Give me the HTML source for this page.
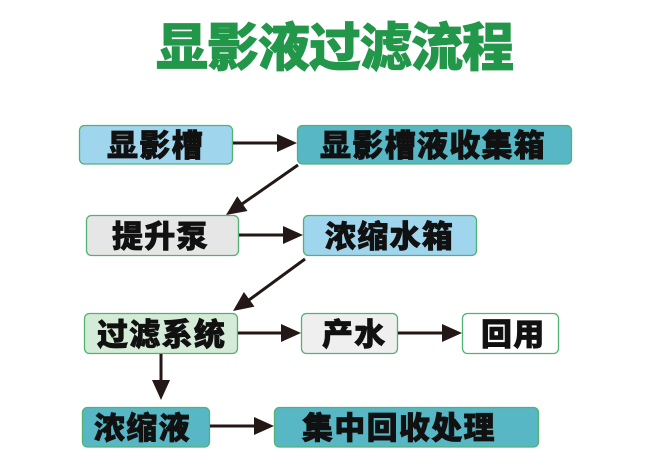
<!DOCTYPE html>
<html><head><meta charset="utf-8"><style>
html,body{margin:0;padding:0;background:#fff;}
svg{display:block;}
text{font-family:"Liberation Sans","Noto Sans CJK SC",sans-serif;font-weight:900;}
</style></head><body>
<svg width="650" height="468" viewBox="0 0 650 468" xmlns="http://www.w3.org/2000/svg">
<rect width="650" height="468" fill="#fff"/>
<text x="156" y="66" font-size="52" fill="#22974a" stroke="#22974a" stroke-width="0.8" letter-spacing="-1">显影液过滤流程</text>

<g stroke="#52b272" stroke-width="1.3">
<rect x="79.5" y="125.5" width="153" height="38.5" rx="5" fill="#a0d5ee"/>
<rect x="297.5" y="125.5" width="274" height="38.5" rx="5" fill="#57b7c5"/>
<rect x="86.5" y="215.5" width="152" height="40" rx="5" fill="#e6e6e6"/>
<rect x="303.5" y="215.5" width="173" height="40" rx="5" fill="#a0d5ee"/>
<rect x="84.5" y="313.5" width="153" height="40" rx="5" fill="#d4ebd7"/>
<rect x="301.5" y="313.5" width="96" height="40" rx="5" fill="#efefef"/>
<rect x="462.5" y="313.5" width="96" height="40" rx="5" fill="#ffffff"/>
<rect x="82.5" y="407.5" width="127" height="39.5" rx="5" fill="#57b7c5"/>
<rect x="274.5" y="407.5" width="264" height="39.5" rx="5" fill="#57b7c5"/>
</g>

<g font-size="31" fill="#111" stroke="#111" stroke-width="0.7" letter-spacing="1.3">
<text x="107" y="156.5">显影槽</text>
<text x="320" y="156.5">显影槽液收集箱</text>
<text x="112" y="247.5">提升泵</text>
<text x="325" y="247.5">浓缩水箱</text>
<text x="97" y="345.5">过滤系统</text>
<text x="322" y="345.5">产水</text>
<text x="481" y="345.5">回用</text>
<text x="94" y="439">浓缩液</text>
<text x="302" y="439">集中回收处理</text>
</g>

<g stroke="#231815" stroke-width="3" fill="none">
<line x1="233" y1="143" x2="279" y2="143"/>
<line x1="239" y1="235" x2="285" y2="235"/>
<line x1="238" y1="333" x2="283" y2="333"/>
<line x1="398" y1="333" x2="444" y2="333"/>
<line x1="210" y1="426" x2="256" y2="426"/>
<line x1="161" y1="354" x2="161" y2="382"/>
<line x1="298" y1="165" x2="242" y2="204"/>
<line x1="305" y1="259" x2="249" y2="300"/>
</g>
<g fill="#231815">
<polygon points="277,134 297,143 277,152"/>
<polygon points="283,226 303,235 283,244"/>
<polygon points="281,324 301,333 281,342"/>
<polygon points="442,324 462,333 442,342"/>
<polygon points="254,417 274,426 254,435"/>
<polygon points="152,380 161,400 170,380"/>
<polygon points="247.5,211 226,215 237.3,196.2"/>
<polygon points="254.5,306.6 233,311 243.9,292"/>
</g>
</svg>
</body></html>
